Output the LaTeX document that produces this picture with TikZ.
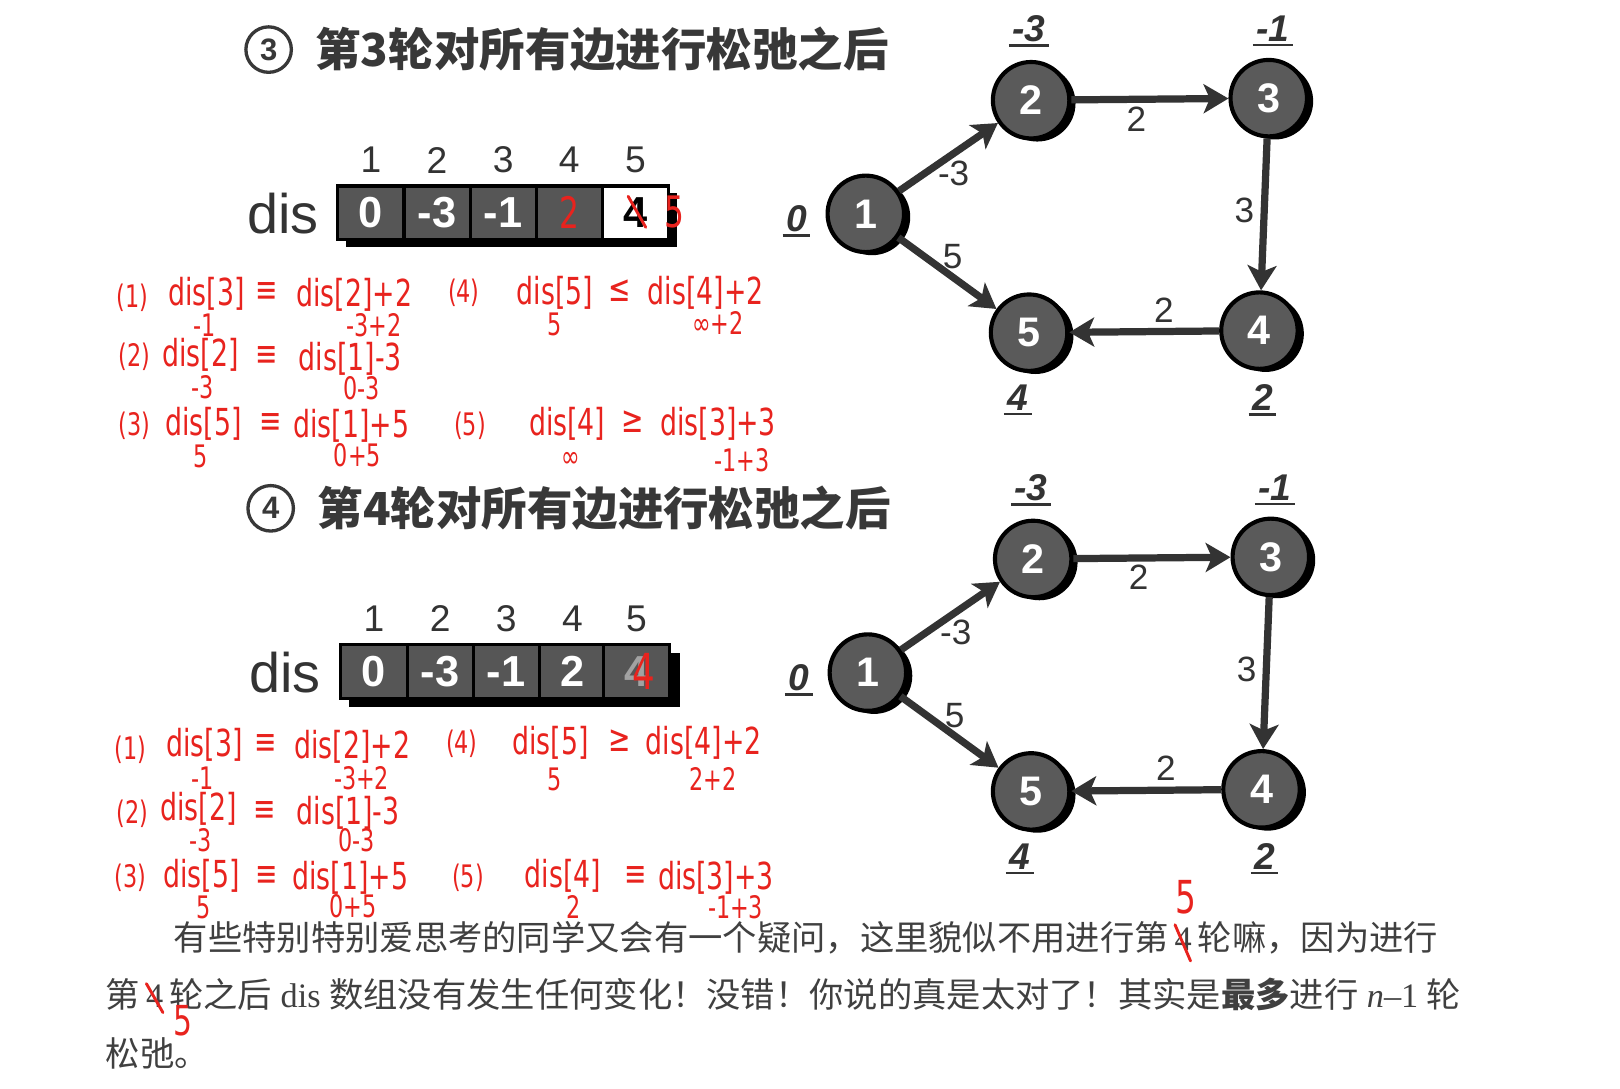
\documentclass[tikz,border=0pt]{standalone}
\usepackage{fontspec}
\setmainfont{Liberation Sans}
\newfontfamily\cjk{Noto Sans CJK SC}
\newfontfamily\hand[FakeStretch=0.72]{DejaVu Sans}
\newfontfamily\lserif{Liberation Serif}
\usetikzlibrary{arrows.meta,calc}
\definecolor{ink}{HTML}{333333}
\definecolor{cellgray}{HTML}{565656}
\definecolor{nodegray}{HTML}{5A5A5A}
\definecolor{hred}{HTML}{E8231E}
\definecolor{txtgray}{HTML}{383838}
\definecolor{paragray}{HTML}{404040}

\newcommand\bfgraph[1]{%
  \coordinate (#1p1) at (838,207);
  \coordinate (#1p2) at (998,97);
  \coordinate (#1p3) at (1228,95);
  \coordinate (#1p4) at (1219,320);
  \coordinate (#1p5) at (996,322);
  \foreach \k in {1,...,5}{\node[gshadow] (#1s\k) at ($(#1p\k)+(6,3)$) {};}
  \foreach \k in {1,...,5}{\node[gnode] (#1n\k) at (#1p\k) {\k};}
  \draw[edge] (#1n1) -- node[elab,shift={(5,16)}] (#1e12) {-3} (#1n2);
  \draw[edge] (#1n1) -- node[elab,shift={(5,-16)}] (#1e15) {5} (#1n5);
  \draw[edge] (#1n2) -- node[elab,shift={(-13,19)}] (#1e23) {2} (#1n3);
  \draw[edge] (#1n3) -- node[elab,shift={(-19,-4)}] (#1e34) {3} (#1n4);
  \draw[edge] (#1n4) -- node[elab,shift={(19,-21)}] (#1e45) {2} (#1n5);
  \node[dlab] (#1d1) at ($(#1p1)+(-67,5)$) {0};
  \node[dlab] (#1d2) at ($(#1p2)+(-2,-69)$) {-3};
  \node[dlab] (#1d3) at ($(#1p3)+(4,-67)$) {-1};
  \node[dlab] (#1d5) at ($(#1p5)+(-11,63)$) {4};
  \node[dlab] (#1d4) at ($(#1p4)+(3,65)$) {2};
  \foreach \k in {1,...,5}{\draw[ul] (#1d\k.south west) -- (#1d\k.south east);}
}

\begin{document}
\begin{tikzpicture}[x=0.5pt,y=-0.5pt,
  gnode/.style={circle,draw=black,line width=2pt,fill=nodegray,minimum size=37pt,inner sep=0pt,text=white,font=\fontsize{20pt}{20pt}\selectfont\bfseries},
  gshadow/.style={circle,fill=black,minimum size=37pt,inner sep=0pt},
  edge/.style={draw=ink,line width=3.5pt,-{Stealth[length=12pt,width=14pt,inset=3pt]}},
  elab/.style={text=ink,inner sep=0pt,font=\fontsize{17pt}{17pt}\selectfont},
  dlab/.style={text=ink,inner sep=1.5pt,font=\fontsize{18pt}{18pt}\selectfont\bfseries\itshape},
  ul/.style={draw=ink,line width=1.2pt},
  cell/.style={draw=black,line width=1.5pt,fill=cellgray,minimum width=32pt,minimum height=26pt,inner sep=0pt,text=white,font=\fontsize{21pt}{21pt}\selectfont\bfseries},
  idx/.style={text=ink,inner sep=0pt,font=\fontsize{18pt}{18pt}\selectfont},
  disl/.style={text=ink,inner sep=0pt,font=\fontsize{27pt}{27pt}\selectfont},
  circnum/.style={circle,draw=txtgray,line width=1.6pt,minimum size=22pt,inner sep=0pt,text=txtgray,font=\fontsize{15pt}{15pt}\selectfont\bfseries},
  ttl/.style={text=txtgray,inner sep=0pt,anchor=west,font=\cjk\fontsize{22pt}{22pt}\selectfont\bfseries},
  para/.style={text=paragray,inner sep=0pt,anchor=base west,font=\cjk\fontsize{16.6pt}{16.6pt}\selectfont},
  hb/.style={text=hred,inner sep=0pt,font=\hand\fontsize{18pt}{18pt}\selectfont},
  hs/.style={text=hred,inner sep=0pt,font=\hand\fontsize{15pt}{15pt}\selectfont},
  hbig/.style={text=hred,inner sep=0pt,font=\hand\fontsize{22pt}{22pt}\selectfont},
  rstroke/.style={draw=hred,line width=1.4pt,line cap=round}
]
\useasboundingbox (0,0) rectangle (1568,1054);
\fill[white] (0,0) rectangle (1568,1054);

% ---------- section 3 ----------
\node[circnum] (c3) at (260,48) {3};
\node[ttl] (t3) at (305,48) {第3轮对所有边进行松弛之后};
\node[disl] (tdis) at (274,207) {dis};
\fill[black] (335,187) rectangle (655,239);
\node[cell] (ta1) at (359,206) {0};
\node[cell] (ta2) at (423,206) {-3};
\node[cell] (ta3) at (487,206) {-1};
\node[cell] (ta4) at (551,206) {};
\node[cell,fill=white,text=black] (ta5) at (615,206) {4};
\foreach \i in {1,...,5}{\node[idx] (ti\i) at ($(ta\i.center)+(0,-51)$) {\i};}
\node[hbig,font=\hand\fontsize{21pt}{21pt}\selectfont] (ra4) at (551,206) {2};
\draw[rstroke] ($(ta5.center)+(-7,-16)$) -- ($(ta5.center)+(10,14)$);
\node[hbig,font=\hand\fontsize{21pt}{21pt}\selectfont] (ra5) at (653,205) {5};

\begin{scope}
\bfgraph{g}
\end{scope}

% annotations round 3
\node[hs] (a1) at (128,288) {(1)};
\node[hb] (a2) at (200,284) {dis[3]};
\node[hb] (a3) at (258,283) {≡};
\node[hb] (a4) at (343,285) {dis[2]+2};
\node[hs] (a5) at (198,315) {-1};
\node[hs] (a6) at (362,315) {-3+2};
\node[hs] (a7) at (449,283) {(4)};
\node[hb] (a8) at (537,283) {dis[5]};
\node[hb] (a9) at (600,281) {≤};
\node[hb] (a10) at (683,283) {dis[4]+2};
\node[hs] (a11) at (537,314) {5};
\node[hs] (a12) at (695,313) {∞+2};
\node[hs] (a13) at (130,345) {(2)};
\node[hb] (a14) at (194,343) {dis[2]};
\node[hb] (a15) at (258,345) {≡};
\node[hb] (a16) at (339,347) {dis[1]-3};
\node[hs] (a17) at (196,375) {-3};
\node[hs] (a18) at (350,376) {0-3};
\node[hs] (a19) at (130,412) {(3)};
\node[hb] (a20) at (197,410) {dis[5]};
\node[hb] (a21) at (262,410) {≡};
\node[hb] (a22) at (340,412) {dis[1]+5};
\node[hs] (a23) at (194,442) {5};
\node[hs] (a24) at (346,441) {0+5};
\node[hs] (a25) at (455,412) {(5)};
\node[hb] (a26) at (549,410) {dis[4]};
\node[hb] (a27) at (612,408) {≥};
\node[hb] (a28) at (695,410) {dis[3]+3};
\node[hs] (a29) at (552,445) {∞};
\node[hs] (a30) at (718,445) {-1+3};

% ---------- section 4 ----------
\node[circnum] (c4) at (262,492) {4};
\node[ttl] (t4) at (307,492) {第4轮对所有边进行松弛之后};
\node[disl] (bdis) at (276,651) {dis};
\fill[black] (338,632) rectangle (658,684);
\node[cell] (ba1) at (362,650) {0};
\node[cell] (ba2) at (426,650) {-3};
\node[cell] (ba3) at (490,650) {-1};
\node[cell] (ba4) at (554,650) {2};
\node[cell,text=white!45!cellgray] (ba5) at (616,650) {4};
\foreach \i in {1,...,5}{\node[idx] (bi\i) at ($(ba\i.center)+(0,-51)$) {\i};}
\node[hbig,font=\hand\fontsize{24pt}{24pt}\selectfont] (rb5) at (623,650) {4};

\begin{scope}[shift={(2,444)}]
\bfgraph{h}
\end{scope}

% annotations round 4
\node[hs] (b1) at (126,726) {(1)};
\node[hb] (b2) at (198,721) {dis[3]};
\node[hb] (b3) at (257,721) {≡};
\node[hb] (b4) at (341,723) {dis[2]+2};
\node[hs] (b5) at (196,753) {-1};
\node[hs] (b6) at (350,753) {-3+2};
\node[hs] (b7) at (447,720) {(4)};
\node[hb] (b8) at (533,719) {dis[5]};
\node[hb] (b9) at (600,717) {≥};
\node[hb] (b10) at (681,719) {dis[4]+2};
\node[hs] (b11) at (537,754) {5};
\node[hs] (b12) at (690,754) {2+2};
\node[hs] (b13) at (128,788) {(2)};
\node[hb] (b14) at (192,783) {dis[2]};
\node[hb] (b15) at (256,785) {≡};
\node[hb] (b16) at (337,787) {dis[1]-3};
\node[hs] (b17) at (194,813) {-3};
\node[hs] (b18) at (345,813) {0-3};
\node[hs] (b19) at (126,850) {(3)};
\node[hb] (b20) at (195,848) {dis[5]};
\node[hb] (b21) at (258,848) {≡};
\node[hb] (b22) at (339,850) {dis[1]+5};
\node[hs] (b23) at (197,878) {5};
\node[hs] (b24) at (342,877) {0+5};
\node[hs] (b25) at (453,850) {(5)};
\node[hb] (b26) at (545,848) {dis[4]};
\node[hb] (b27) at (615,848) {≡};
\node[hb] (b28) at (693,850) {dis[3]+3};
\node[hs] (b29) at (555,878) {2};
\node[hs] (b30) at (712,878) {-1+3};

% ---------- paragraph ----------
\node[para] (l1a) at (168,920) {有些特别特别爱思考的同学又会有一个疑问，这里貌似不用进行第};
\node[para,inner xsep=2.5pt] (l1b) at (l1a.base east) {\lserif 4};
\node[para] (l1c) at (l1b.base east) {轮嘛，因为进行};
\node[para] (l2a) at (102,975) {第};
\node[para,inner xsep=2.5pt] (l2b) at (l2a.base east) {\lserif 4};
\node[para] (l2c) at (l2b.base east) {轮之后\hspace{0.25em}{\lserif dis}\hspace{0.25em}数组没有发生任何变化！没错！你说的真是太对了！其实是{\bfseries 最多}进行\hspace{0.25em}{\lserif\itshape n}{\lserif –1}\hspace{0.25em}轮};
\node[para] (l3) at (102,1032) {松弛。};
\draw[rstroke] ($(l1b.center)+(-8,-14)$) -- ($(l1b.center)+(7,21)$);
\node[hbig] (r1) at ($(l1b.center)+(3,-41)$) {5};
\draw[rstroke] ($(l2b.center)+(-8,-12)$) -- ($(l2b.center)+(8,16)$);
\node[hbig,font=\hand\fontsize{20pt}{20pt}\selectfont] (r2) at ($(l2b.center)+(27,24)$) {5};
\end{tikzpicture}
\end{document}
